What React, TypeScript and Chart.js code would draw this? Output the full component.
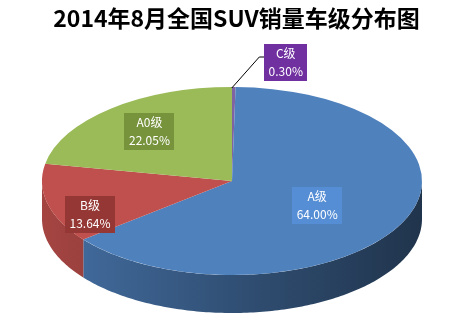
import React, { useEffect, useRef } from 'react';
import { Chart, registerables } from 'chart.js';

Chart.register(...registerables);

const titleText = '2014年8月全国SUV销量车级分布图';
const categories = ['C级', 'A级', 'B级', 'A0级'];
const shares = [0.3, 64.0, 13.64, 22.05];
const percentLabels = ['0.30%', '64.00%', '13.64%', '22.05%'];
const topColors = ['#8064A2', '#4F81BD', '#C0504D', '#9BBB59'];
const labelBoxColors = ['#7030A0', '#558ED5', '#953735', '#77933C'];

const FONT = "'Noto Sans CJK SC', 'Liberation Sans', sans-serif";

function hexToRgb(h: string) {
  const n = parseInt(h.slice(1), 16);
  return [(n >> 16) & 255, (n >> 8) & 255, n & 255];
}
function shade(h: string, f: number) {
  const [r, g, b] = hexToRgb(h);
  return `rgb(${Math.round(r * f)},${Math.round(g * f)},${Math.round(b * f)})`;
}

const pie3d = {
  id: 'pie3d',
  beforeDatasetsDraw(chart: any, _args: any, opts: any) {
    const { cx, cy, rx, ry, depth } = opts;
    const ctx = chart.ctx as CanvasRenderingContext2D;
    const meta = chart.getDatasetMeta(0);
    const arcs = meta.data;
    // side walls
    arcs.forEach((arc: any, i: number) => {
      const s = arc.startAngle;
      const e = arc.endAngle;
      for (const k of [0, Math.PI * 2]) {
        const a1 = Math.max(s, k);
        const a2 = Math.min(e, k + Math.PI);
        if (a2 <= a1) continue;
        const n = Math.max(4, Math.ceil((a2 - a1) * 60));
        ctx.save();
        ctx.beginPath();
        for (let j = 0; j <= n; j++) {
          const a = a1 + ((a2 - a1) * j) / n;
          const px = cx + rx * Math.cos(a);
          const py = cy + ry * Math.sin(a);
          if (j === 0) ctx.moveTo(px, py);
          else ctx.lineTo(px, py);
        }
        for (let j = n; j >= 0; j--) {
          const a = a1 + ((a2 - a1) * j) / n;
          ctx.lineTo(cx + rx * Math.cos(a), cy + ry * Math.sin(a) + depth);
        }
        ctx.closePath();
        const col = topColors[i % topColors.length];
        const g = ctx.createLinearGradient(cx - rx, 0, cx + rx, 0);
        g.addColorStop(0, shade(col, 0.86));
        g.addColorStop(0.5, shade(col, 0.62));
        g.addColorStop(1, shade(col, 0.4));
        ctx.fillStyle = g;
        ctx.fill();
        ctx.restore();
      }
    });
    ctx.save();
    const a0 = arcs[0];
    const r0 = a0.outerRadius;
    ctx.translate(cx, cy);
    ctx.scale(rx / r0, ry / r0);
    ctx.translate(-a0.x, -a0.y);
  },
  afterDatasetsDraw(chart: any, _args: any, opts: any) {
    const { cx, cy, rx, ry, labelPos } = opts;
    const ctx = chart.ctx as CanvasRenderingContext2D;
    ctx.restore();
    const meta = chart.getDatasetMeta(0);
    ctx.save();
    ctx.font = `12px ${FONT}`;
    ctx.textAlign = 'center';
    ctx.textBaseline = 'middle';
    meta.data.forEach((arc: any, i: number) => {
      const mid = (arc.startAngle + arc.endAngle) / 2;
      const lp = labelPos[i];
      let bx: number, by: number;
      const l1 = categories[i];
      const l2 = percentLabels[i];
      const w = Math.ceil(Math.max(ctx.measureText(l1).width, ctx.measureText(l2).width)) + 8;
      const h = 37;
      if (lp.outside) {
        const ax = cx + rx * Math.cos(mid);
        const ay = cy + ry * Math.sin(mid);
        bx = ax + lp.dx;
        by = ay + lp.dy;
        const left = bx - w / 2;
        ctx.strokeStyle = '#000';
        ctx.lineWidth = 1;
        ctx.beginPath();
        ctx.moveTo(ax - 2, ay + 1);
        ctx.lineTo(left - 5, by - 5);
        ctx.lineTo(left, by - 5);
        ctx.stroke();
      } else {
        bx = cx + rx * lp.f * Math.cos(mid);
        by = cy + ry * lp.f * Math.sin(mid) + lp.dy;
      }
      ctx.fillStyle = labelBoxColors[i];
      ctx.fillRect(Math.round(bx - w / 2), Math.round(by - h / 2), w, h);
      ctx.fillStyle = '#fff';
      ctx.fillText(l1, bx, by - 9);
      ctx.fillText(l2, bx, by + 9);
    });
    ctx.restore();
  },
};

export default function App() {
  const ref = useRef<HTMLCanvasElement | null>(null);
  useEffect(() => {
    if (!ref.current) return;
    const chart = new Chart(ref.current, {
      type: 'pie',
      data: {
        labels: categories,
        datasets: [
          {
            data: shares,
            backgroundColor: topColors,
            borderWidth: 0,
            clip: false,
          } as any,
        ],
      },
      options: {
        responsive: false,
        animation: false,
        devicePixelRatio: 1,
        layout: { padding: { left: 20, right: 20, bottom: 10 } },
        plugins: {
          legend: { display: false },
          tooltip: { enabled: false },
          title: {
            display: true,
            text: titleText,
            color: '#000',
            font: { size: 23, weight: 'bold', family: FONT },
            padding: { top: 4, bottom: 8 },
          },
          pie3d: {
            cx: 232,
            cy: 181,
            rx: 190,
            ry: 94,
            depth: 38,
            labelPos: [
              { outside: true, dx: 52, dy: -25 },
              { f: 0.5, dy: 4 },
              { f: 0.77, dy: 16 },
              { f: 0.68, dy: 0 },
            ],
          },
        } as any,
      },
      plugins: [pie3d as any],
    });
    return () => chart.destroy();
  }, []);
  return (
    <div style={{ position: 'absolute', left: 0, top: 0, width: 473, height: 324, background: '#fff' }}>
      <canvas ref={ref} width={473} height={324} />
    </div>
  );
}
